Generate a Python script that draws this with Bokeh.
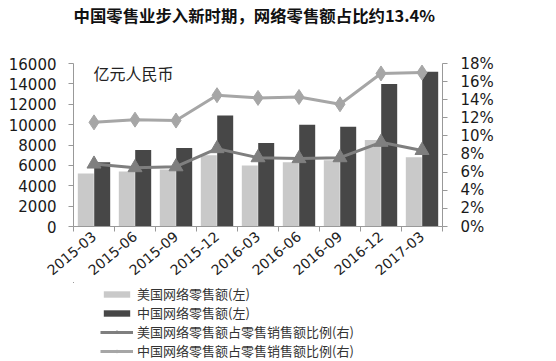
import numpy as np
from bokeh.plotting import figure
from bokeh.layouts import column
from bokeh.models import (ColumnDataSource, Range1d, LinearAxis, FixedTicker,
                          PrintfTickFormatter, Label, Legend, LegendItem)
from bokeh.transform import dodge
from bokeh.embed import file_html
from bokeh.resources import INLINE

# ---- data ----
quarters = ["2015-03", "2015-06", "2015-09", "2015-12", "2016-03",
            "2016-06", "2016-09", "2016-12", "2017-03"]
us_sales = [5200, 5400, 5600, 7000, 6000, 6300, 6500, 8500, 6800]          # 亿元
cn_sales = [6300, 7500, 7700, 10900, 8200, 10000, 9800, 14000, 15200]      # 亿元
us_ratio = [6.9, 6.5, 6.6, 8.6, 7.6, 7.5, 7.6, 9.3, 8.4]                   # %
cn_ratio = [11.5, 11.8, 11.7, 14.5, 14.2, 14.3, 13.5, 16.9, 17.0]          # %
left_ticks = [0, 2000, 4000, 6000, 8000, 10000, 12000, 14000, 16000]
right_ticks = [0, 2, 4, 6, 8, 10, 12, 14, 16, 18]
title_text = "中国零售业步入新时期，网络零售额占比约13.4%"
unit_text = "亿元人民币"
legend_labels = ["美国网络零售额(左)", "中国网络零售额(左)",
                 "美国网络零售额占零售销售额比例(右)", "中国网络零售额占零售销售额比例(右)"]

n = len(quarters)
src = ColumnDataSource(dict(
    x=np.arange(n) + 0.5, us=us_sales, cn=cn_sales, usr=us_ratio, cnr=cn_ratio))

FONT = "DejaVu Sans"
CJK = "Noto Sans CJK SC"
C_US_BAR, C_CN_BAR, C_US_LINE, C_CN_LINE = "#c9c9c9", "#474747", "#7f7f7f", "#a6a6a6"


def blank(h):
    f = figure(width=556, height=h, output_backend="svg", toolbar_location=None,
               x_range=Range1d(100, 101), y_range=Range1d(-1000, -999),
               min_border_left=0, min_border_right=0, min_border_top=0, min_border_bottom=0)
    f.extra_y_ranges = {"pct": Range1d(-1000, -999)}
    f.axis.visible = False
    f.grid.visible = False
    f.outline_line_color = None
    return f


# ---- title strip (its frame is aligned with the chart frame, x from 73) ----
tf = blank(40)
tf.add_layout(Label(x=0, y=26, x_units="screen", y_units="screen", text=title_text,
                    text_font=CJK, text_font_style="bold", text_font_size="16.4px",
                    text_align="left", text_baseline="middle", text_color="#111111"))

# ---- main chart ----
p = figure(width=556, height=242, output_backend="svg", toolbar_location=None,
           x_range=Range1d(0, n), y_range=Range1d(0, 16000),
           min_border_left=73, min_border_right=114, min_border_top=23,
           min_border_bottom=56)
p.extra_y_ranges = {"pct": Range1d(0, 18)}
p.outline_line_color = None
p.xgrid.visible = False
p.ygrid.visible = False


def draw(fig, s):
    rb1 = fig.vbar(x=dodge("x", -0.2), top="us", width=0.39, source=s,
                   color=C_US_BAR, line_color=None)
    rb2 = fig.vbar(x=dodge("x", 0.2), top="cn", width=0.39, source=s,
                   color=C_CN_BAR, line_color=None)
    l1 = fig.line("x", "usr", source=s, y_range_name="pct", line_color=C_US_LINE, line_width=3)
    m1 = fig.scatter("x", "usr", source=s, y_range_name="pct", marker="triangle",
                     size=14, color=C_US_LINE)
    l2 = fig.line("x", "cnr", source=s, y_range_name="pct", line_color=C_CN_LINE, line_width=3)
    m2 = fig.scatter("x", "cnr", source=s, y_range_name="pct", marker="diamond",
                     size=15, color=C_CN_LINE)
    return rb1, rb2, l1, m1, l2, m2


draw(p, src)

# x axis
xa = p.xaxis[0]
xa.ticker = FixedTicker(ticks=list(np.arange(n) + 0.5), minor_ticks=list(range(n + 1)))
xa.major_label_overrides = {float(i + 0.5): q for i, q in enumerate(quarters)}
xa.major_tick_out = 0
xa.major_tick_in = 0
xa.minor_tick_out = 5
xa.minor_tick_in = 0
xa.minor_tick_line_color = "#999999"
xa.axis_line_color = "#999999"
xa.major_label_orientation = 0.7
xa.major_label_text_font = FONT
xa.major_label_text_font_size = "14px"
xa.major_label_text_color = "#222222"
xa.major_label_standoff = 3

# left axis
ya = p.yaxis[0]
ya.ticker = FixedTicker(ticks=left_ticks)
ya.axis_line_color = "#999999"
ya.major_tick_line_color = "#999999"
ya.major_tick_out = 5
ya.major_tick_in = 0
ya.minor_tick_line_color = None
ya.major_label_text_font = FONT
ya.major_label_text_font_size = "15px"
ya.major_label_text_color = "#1a1a1a"
ya.major_label_standoff = 12

# right axis
ra = LinearAxis(y_range_name="pct", ticker=FixedTicker(ticks=right_ticks),
                formatter=PrintfTickFormatter(format="%d%%"))
ra.axis_line_color = "#999999"
ra.major_tick_line_color = "#999999"
ra.major_tick_out = 5
ra.major_tick_in = 0
ra.minor_tick_line_color = None
ra.major_label_text_font = FONT
ra.major_label_text_font_size = "15px"
ra.major_label_text_color = "#1a1a1a"
ra.major_label_standoff = 13
p.add_layout(ra, "right")

p.add_layout(Label(x=20, y=154, x_units="screen", y_units="screen", text=unit_text,
                   text_font=CJK, text_font_size="16px", text_align="left",
                   text_baseline="middle", text_color="#222222"))

# ---- legend strip (frame aligned with chart; its glyph renderers lie outside its view) ----
lg = blank(79)
e1, e2, e3l, e3m, e4l, e4m = draw(lg, src)
legend = Legend(items=[
    LegendItem(label=legend_labels[0], renderers=[e1]),
    LegendItem(label=legend_labels[1], renderers=[e2]),
    LegendItem(label=legend_labels[2], renderers=[e3l, e3m]),
    LegendItem(label=legend_labels[3], renderers=[e4l, e4m]),
], orientation="vertical",
    padding=0, margin=0, spacing=0, label_height=18, glyph_height=8, glyph_width=33,
    label_standoff=4, label_text_font=CJK, label_text_font_size="13px",
    label_text_line_height=1.0,
    label_text_color="#333333", border_line_color=None, background_fill_alpha=0)
legend.location = (27, 1)
lg.add_layout(legend, "center")

layout = column(tf, p, lg, spacing=0)
open("out.html", "w").write(file_html(layout, INLINE))
